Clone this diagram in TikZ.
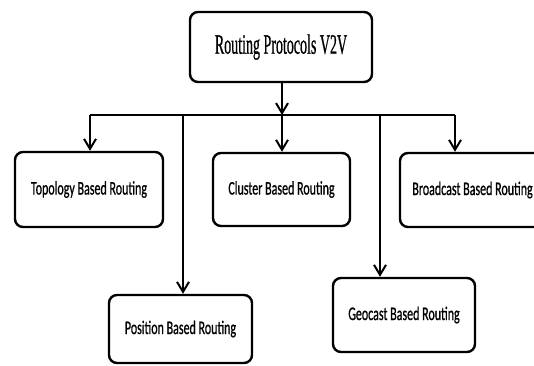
\documentclass[tikz,border=0pt]{standalone}
\usepackage{fontspec}
\usepackage{graphicx}
\setmainfont{Liberation Serif}
\newfontfamily\boxfont{Carlito}[FakeBold=1]
\newfontfamily\topfont{Liberation Serif}[FakeBold=1]
\usetikzlibrary{arrows.meta}
\tikzset{
  box/.style={draw=black, line width=2.4pt, rounded corners=8pt, fill=white, inner sep=0pt},
  link/.style={draw=black, line width=2pt},
  arr/.style={link, -{Straight Barb[length=10pt,width=12pt,line width=2pt]}},
}
\newcommand{\btxt}[1]{\scalebox{1}[1.6]{\boxfont\fontsize{12}{14}\selectfont #1}}
\begin{document}
\begin{tikzpicture}[x=1pt,y=-1pt]
\useasboundingbox (0,0) rectangle (534,365);
\clip (0,0) rectangle (534,365);
\node[box, minimum width=182pt, minimum height=70pt] (top) at (281,47)
  {\scalebox{1}[2.0]{\topfont\fontsize{14}{16}\selectfont Routing Protocols V2V}};
\node[box, minimum width=148pt, minimum height=75pt] (topo) at (89,189.5) {\btxt{Topology Based Routing}};
\node[box, minimum width=137pt, minimum height=73pt] (clus) at (281.5,189.5) {\btxt{Cluster Based Routing}};
\node[box, minimum width=145pt, minimum height=74pt] (broad) at (472.5,190) {\btxt{Broadcast Based Routing}};
\node[box, minimum width=143pt, minimum height=68pt] (pos) at (180.5,329) {\btxt{Position Based Routing}};
\node[box, minimum width=142pt, minimum height=74pt] (geo) at (404,315) {\btxt{Geocast Based Routing}};
\coordinate (bl) at (90,115);
\coordinate (br) at (455,115);
\coordinate (bm) at (282,115);
\coordinate (bp) at (183,115);
\coordinate (bg) at (380,115);
\draw[link] (bl) -- (br);
\draw[arr] (top.south -| bm) -- (bm);
\draw[arr] (bl) -- (bl |- topo.north);
\draw[arr] (bm) -- (bm |- clus.north);
\draw[arr] (br) -- (br |- broad.north);
\draw[arr] (bp) -- (bp |- pos.north);
\draw[arr] (bg) -- (bg |- geo.north);
\end{tikzpicture}
\end{document}
